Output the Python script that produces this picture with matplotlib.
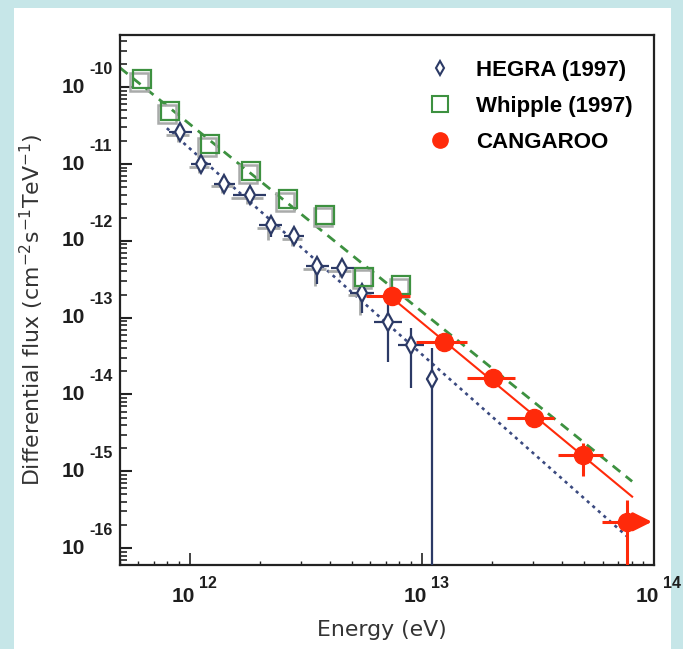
import matplotlib
matplotlib.use("Agg")
import matplotlib.pyplot as plt
import matplotlib.transforms as mtransforms
from matplotlib.lines import Line2D
from matplotlib.patches import Rectangle
from matplotlib.font_manager import FontProperties
from matplotlib.ticker import FixedLocator, NullFormatter
import numpy as np

# HEGRA (1997)
hegra_E = np.array([9.1e11, 1.12e12, 1.41e12, 1.81e12, 2.23e12, 2.82e12,
                    3.54e12, 4.54e12, 5.52e12, 7.14e12, 8.97e12, 1.10e13])
hegra_F = np.array([2.6e-11, 1.0e-11, 5.5e-12, 3.9e-12, 1.6e-12, 1.15e-12,
                    4.7e-13, 4.4e-13, 2.1e-13, 8.7e-14, 4.4e-14, 1.6e-14])
hegra_dx = np.array([0.05, 0.043, 0.047, 0.07, 0.05, 0.043, 0.05, 0.05, 0.05, 0.06, 0.056, 0.025])
hegra_dy_lo = np.array([0.09, 0.09, 0.09, 0.08, 0.16, 0.09, 0.23, 0.08, 0.26, 0.52, 0.56, 3.0])
hegra_dy_hi = np.array([0.09, 0.09, 0.09, 0.08, 0.08, 0.09, 0.08, 0.08, 0.10, 0.29, 0.22, 0.40])
hegra_fit = dict(norm=1.59e-11, index=2.68, emin=7.96e11, emax=7.73e13)  # norm at 1 TeV

# Whipple (1997)
whip_E = np.array([6.2e11, 8.2e11, 1.22e12, 1.83e12, 2.64e12, 3.84e12, 5.64e12, 8.13e12])
whip_F = np.array([1.27e-10, 4.9e-11, 1.8e-11, 8.1e-12, 3.5e-12, 2.2e-12, 3.4e-13, 2.65e-13])
whip_fit = dict(norm=3.3e-11, index=2.44, emin=5e11, emax=8.05e13)  # norm at 1 TeV

# CANGAROO
cang_E = np.array([7.4e12, 1.24e13, 2.02e13, 3.03e13, 4.96e13, 7.66e13])
cang_F = np.array([1.9e-13, 4.8e-14, 1.63e-14, 4.9e-15, 1.62e-15, 2.2e-16])
cang_Elo = np.array([5.75e12, 9.4e12, 1.57e13, 2.32e13, 3.87e13, 5.98e13])
cang_Ehi = np.array([8.87e12, 1.57e13, 2.53e13, 3.72e13, 6.04e13, 7.66e13])
cang_dy_lo = np.array([0.08, 0.08, 0.08, 0.08, 0.27, 2.0])
cang_dy_hi = np.array([0.08, 0.08, 0.08, 0.08, 0.156, 0.29])
cang_fit = dict(norm=8.6e-14, index=2.50, emin=7.36e12, emax=8.05e13)  # norm at 10 TeV
cang_arrow_to = 9.8e13

labels = ["HEGRA (1997)", "Whipple (1997)", "CANGAROO"]
decades_x = [12, 13, 14]
decades_y = list(range(-16, -9))

navy = "#2c3a66"
green = "#3d9140"
shadow_gray = "#a9abaa"
red = "#ff2a0a"
ink = "#1e1e1e"

W, H = 683, 649
fig = plt.figure(figsize=(W / 100, H / 100), dpi=100, facecolor="#c6e6e8")
fig.patches.append(Rectangle((14 / W, 0), 657 / W, (H - 8) / H, transform=fig.transFigure,
                             facecolor="white", edgecolor="none", zorder=-10))
ax = fig.add_axes([120 / W, 1 - 565 / H, 534 / W, 530 / H])
ax.set_xscale("log")
ax.set_yscale("log")
ax.set_xlim(5e11, 1e14)
ax.set_ylim(10 ** -16.22, 10 ** -9.32)

shadow = mtransforms.offset_copy(ax.transData, fig=fig, x=-2.5, y=-2.5, units="dots")

# power-law fits
e = np.logspace(np.log10(whip_fit["emin"]), np.log10(whip_fit["emax"]), 50)
ax.plot(e, whip_fit["norm"] * (e / 1e12) ** -whip_fit["index"], color=green, lw=2,
        ls=(0, (3.5, 2.5)), zorder=2)
e = np.logspace(np.log10(hegra_fit["emin"]), np.log10(hegra_fit["emax"]), 50)
ax.plot(e, hegra_fit["norm"] * (e / 1e12) ** -hegra_fit["index"], color="#3b4a80", lw=1.9,
        ls=(0, (1.2, 1.6)), zorder=2)
e = np.logspace(np.log10(cang_fit["emin"]), np.log10(cang_fit["emax"]), 50)
ax.plot(e, cang_fit["norm"] * (e / 1e13) ** -cang_fit["index"], color=red, lw=1.5, zorder=3)

# HEGRA points (grey offset copy only on the small-error points)
xerr = np.array([hegra_E - hegra_E / 10 ** hegra_dx, hegra_E * 10 ** hegra_dx - hegra_E])
yerr = np.array([hegra_F - hegra_F / 10 ** hegra_dy_lo, hegra_F * 10 ** hegra_dy_hi - hegra_F])
n_sh = 9
ax.errorbar(hegra_E[:n_sh], hegra_F[:n_sh], xerr=xerr[:, :n_sh], yerr=yerr[:, :n_sh],
            fmt="none", ecolor=shadow_gray, elinewidth=2, capsize=0, transform=shadow, zorder=3)
ax.errorbar(hegra_E, hegra_F, xerr=xerr, yerr=yerr, fmt="none", ecolor=navy,
            elinewidth=1.6, capsize=0, zorder=4)
ax.plot(hegra_E, hegra_F, ls="none", marker="d", ms=8.7, mfc="white", mec=navy, mew=1.6, zorder=5)

# Whipple points
ax.plot(whip_E, whip_F, ls="none", marker="s", ms=13, mfc="none", mec=shadow_gray, mew=1.8,
        transform=shadow, zorder=4)
ax.plot(whip_E, whip_F, ls="none", marker="s", ms=13, mfc="none", mec=green, mew=1.6, zorder=5)

# CANGAROO points
xerr = [cang_E - cang_Elo, cang_Ehi - cang_E]
yerr = [cang_F - cang_F / 10 ** cang_dy_lo, cang_F * 10 ** cang_dy_hi - cang_F]
ax.errorbar(cang_E, cang_F, xerr=xerr, yerr=yerr, fmt="o", ms=13, color=red, mec=red,
            elinewidth=2.2, capsize=0, zorder=6)
ax.annotate("", xy=(cang_arrow_to, cang_F[-1]), xytext=(cang_E[-1], cang_F[-1]),
            arrowprops=dict(arrowstyle="-|>", color=red, lw=2.5, mutation_scale=28,
                            shrinkA=0, shrinkB=0), zorder=6)

# axes styling
for s in ax.spines.values():
    s.set_linewidth(1.6)
    s.set_color("#222222")
ax.xaxis.set_major_locator(FixedLocator([10.0 ** k for k in decades_x]))
ax.yaxis.set_major_locator(FixedLocator([10.0 ** k for k in decades_y]))
ax.xaxis.set_major_formatter(NullFormatter())
ax.yaxis.set_major_formatter(NullFormatter())
minor_x = [m * 10.0 ** k for k in range(11, 14) for m in range(2, 10)]
minor_y = [m * 10.0 ** k for k in range(-17, -9) for m in range(2, 10)]
ax.xaxis.set_minor_locator(FixedLocator(minor_x))
ax.yaxis.set_minor_locator(FixedLocator(minor_y))
ax.xaxis.set_minor_formatter(NullFormatter())
ax.yaxis.set_minor_formatter(NullFormatter())
ax.tick_params(which="both", direction="in", top=False, right=False, color="#222222")
ax.tick_params(axis="x", which="major", length=8.5, width=1.2)
ax.tick_params(axis="x", which="minor", length=3, width=1.0)
ax.tick_params(axis="y", which="major", length=8.5, width=1.5)
ax.tick_params(axis="y", which="minor", length=5, width=1.2)

# ROOT-style "10^n" labels: base and raised exponent
base_font = dict(family="Liberation Sans", weight="bold", size=15, color=ink)
exp_font = dict(family="Liberation Sans", weight="bold", size=11.5, color=ink)
ytr = ax.get_yaxis_transform()
xtr = ax.get_xaxis_transform()
for k in decades_y:
    ax.text(0, 10.0 ** k, "10", ha="right", va="center", clip_on=False,
            transform=mtransforms.offset_copy(ytr, fig=fig, x=-35, y=0, units="dots"), **base_font)
    ax.text(0, 10.0 ** k, "-%d" % -k, ha="left", va="center", clip_on=False,
            transform=mtransforms.offset_copy(ytr, fig=fig, x=-31, y=18, units="dots"), **exp_font)
for k in decades_x:
    ax.text(10.0 ** k, 0, "10", ha="right", va="center", clip_on=False,
            transform=mtransforms.offset_copy(xtr, fig=fig, x=5, y=-32, units="dots"), **base_font)
    ax.text(10.0 ** k, 0, "%d" % k, ha="left", va="center", clip_on=False,
            transform=mtransforms.offset_copy(xtr, fig=fig, x=9, y=-18, units="dots"), **exp_font)

fig.text(382 / W, 1 - 630 / H, "Energy (eV)", ha="center", va="center", fontsize=15.8,
         family="DejaVu Sans", color="#333333")
fig.text(32 / W, 1 - 310 / H, r"Differential flux (cm$^{-2}$s$^{-1}$TeV$^{-1}$)",
         ha="center", va="center", rotation=90, fontsize=15.8, family="DejaVu Sans",
         math_fontfamily="dejavusans", color="#333333")

handles = [
    Line2D([], [], ls="none", marker="d", ms=7.5, mfc="white", mec=navy, mew=1.5),
    Line2D([], [], ls="none", marker="s", ms=11, mfc="white", mec=green, mew=1.5),
    Line2D([], [], ls="none", marker="o", ms=11, mfc=red, mec=red),
]
ax.legend(handles, labels, loc="upper left", bbox_to_anchor=(0.579, 0.953), frameon=False,
          prop=FontProperties(family="Liberation Sans", weight="bold", size=16),
          handlelength=0.95, handletextpad=1.15, labelspacing=0.67, borderpad=0, borderaxespad=0)

fig.savefig("out.png", dpi=100, facecolor=fig.get_facecolor())
